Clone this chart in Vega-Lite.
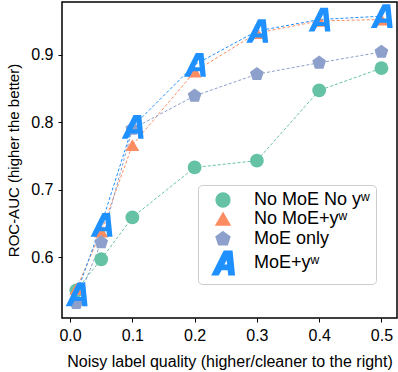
{
  "$schema": "https://vega.github.io/schema/vega-lite/v6.json",
  "width": 335,
  "height": 316,
  "autosize": {"type": "none"},
  "padding": {"left": 62, "top": 2, "right": 1, "bottom": 54},
  "config": {
    "font": "Liberation Sans",
    "view": {"stroke": "black", "strokeWidth": 1.5},
    "axis": {"grid": false, "domain": false, "tickColor": "black", "tickSize": 4, "labelFontSize": 16, "labelColor": "black", "titleFontSize": 15, "titleFontWeight": "normal", "titleColor": "black", "labelPadding": 5}
  },
  "data": {"values": [
    {"s": "No MoE No yʷ", "x": 0.01, "y": 0.551},
    {"s": "No MoE No yʷ", "x": 0.05, "y": 0.597},
    {"s": "No MoE No yʷ", "x": 0.1, "y": 0.659},
    {"s": "No MoE No yʷ", "x": 0.2, "y": 0.733},
    {"s": "No MoE No yʷ", "x": 0.3, "y": 0.743},
    {"s": "No MoE No yʷ", "x": 0.4, "y": 0.847},
    {"s": "No MoE No yʷ", "x": 0.5, "y": 0.880},
    {"s": "No MoE+yʷ", "x": 0.01, "y": 0.553},
    {"s": "No MoE+yʷ", "x": 0.05, "y": 0.638},
    {"s": "No MoE+yʷ", "x": 0.1, "y": 0.766},
    {"s": "No MoE+yʷ", "x": 0.2, "y": 0.875},
    {"s": "No MoE+yʷ", "x": 0.3, "y": 0.932},
    {"s": "No MoE+yʷ", "x": 0.4, "y": 0.950},
    {"s": "No MoE+yʷ", "x": 0.5, "y": 0.952},
    {"s": "MoE only", "x": 0.01, "y": 0.532},
    {"s": "MoE only", "x": 0.05, "y": 0.622},
    {"s": "MoE only", "x": 0.1, "y": 0.790},
    {"s": "MoE only", "x": 0.2, "y": 0.839},
    {"s": "MoE only", "x": 0.3, "y": 0.871},
    {"s": "MoE only", "x": 0.4, "y": 0.888},
    {"s": "MoE only", "x": 0.5, "y": 0.904},
    {"s": "MoE+yʷ", "x": 0.01, "y": 0.545},
    {"s": "MoE+yʷ", "x": 0.05, "y": 0.648},
    {"s": "MoE+yʷ", "x": 0.1, "y": 0.793},
    {"s": "MoE+yʷ", "x": 0.2, "y": 0.885},
    {"s": "MoE+yʷ", "x": 0.3, "y": 0.935},
    {"s": "MoE+yʷ", "x": 0.4, "y": 0.952},
    {"s": "MoE+yʷ", "x": 0.5, "y": 0.957}
  ]},
  "encoding": {
    "x": {"field": "x", "type": "quantitative", "scale": {"domain": [-0.013, 0.525], "nice": false, "zero": false},
          "axis": {"values": [0, 0.1, 0.2, 0.3, 0.4, 0.5], "format": ".1f", "title": "Noisy label quality (higher/cleaner to the right)", "titleFontSize": 16, "titlePadding": 10}},
    "y": {"field": "y", "type": "quantitative", "scale": {"domain": [0.51, 0.978], "nice": false, "zero": false},
          "axis": {"values": [0.6, 0.7, 0.8, 0.9], "format": ".1f", "title": "ROC-AUC (higher the better)", "titlePadding": 9}}
  },
  "layer": [
    {"mark": {"type": "line", "strokeDash": [3, 2], "strokeWidth": 1},
     "encoding": {
       "color": {"field": "s", "type": "nominal", "sort": null,
                 "scale": {"domain": ["No MoE No yʷ", "No MoE+yʷ", "MoE only", "MoE+yʷ"], "range": ["#66c2a5", "#fc8d62", "#8da0cb", "#1E90FF"]}}
     }},
    {"mark": {"type": "point", "filled": true, "opacity": 1},
     "encoding": {
       "shape": {"field": "s", "type": "nominal", "sort": null,
                 "scale": {"domain": ["No MoE No yʷ", "No MoE+yʷ", "MoE only", "MoE+yʷ"],
                           "range": ["circle", "triangle-up", "M0,-1L0.951,-0.309L0.588,0.809L-0.588,0.809L-0.951,-0.309Z", "M-0.9,1L0.1,-1L0.75,-1L0.95,1L0.5,1L0.45,0.55L-0.15,0.55L-0.4,1Z M0,0.2L0.42,0.2L0.35,-0.45Z"]},
                 "legend": {"title": null, "orient": "none", "legendX": 136, "legendY": 183, "labelFontSize": 18, "labelColor": "black", "padding": 6, "strokeColor": "#cccccc", "fillColor": "white", "cornerRadius": 4, "rowPadding": 0, "symbolOffset": 6, "labelOffset": 18}},
       "size": {"field": "s", "type": "nominal", "sort": null,
                "scale": {"type": "ordinal", "domain": ["No MoE No yʷ", "No MoE+yʷ", "MoE only", "MoE+yʷ"], "range": [190, 190, 210, 560]}},
       "color": {"field": "s", "type": "nominal", "sort": null,
                 "scale": {"domain": ["No MoE No yʷ", "No MoE+yʷ", "MoE only", "MoE+yʷ"], "range": ["#66c2a5", "#fc8d62", "#8da0cb", "#1E90FF"]}}
     }}
  ]
}
